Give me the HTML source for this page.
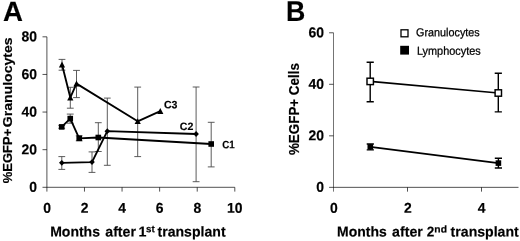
<!DOCTYPE html>
<html><head><meta charset="utf-8"><title>fig</title>
<style>
html,body{margin:0;padding:0;background:#fff;}
body{width:520px;height:241px;overflow:hidden;}
svg{display:block;will-change:transform;filter:grayscale(1);}
text{font-family:"Liberation Sans",sans-serif;fill:#000;}
.b{font-weight:bold;stroke:#000;stroke-width:0.18;}
.ax{stroke:#000;stroke-width:0.68;fill:none;}
.axr{stroke:#000;stroke-width:0.55;fill:none;}
.eb{stroke:#4a4a4a;stroke-width:0.9;fill:none;}
.ebr{stroke:#000;stroke-width:1.4;fill:none;}
.ln{stroke:#000;stroke-width:1.85;fill:none;stroke-linejoin:round;stroke-linecap:round;}
.lnr{stroke:#000;stroke-width:1.65;fill:none;}
</style></head><body>
<svg width="520" height="241" viewBox="0 0 520 241">
<rect width="520" height="241" fill="#fff"/>
<text class="b" font-size="28" transform="translate(3.01 20.90) scale(0.9861 1) rotate(0.03)">A</text>
<text class="b" font-size="28.7" transform="translate(286.10 21.00) scale(0.9311 1) rotate(0.03)">B</text>
<path class="ax" d="M46.9 36.82V191.60000000000002M42.5 187.3H234.80"/>
<text class="b" font-size="14.2" transform="translate(29.28 191.80) scale(0.9800 1) rotate(0.03)">0</text>
<path class="ax" d="M42.5 149.68H46.9"/>
<text class="b" font-size="14.2" transform="translate(21.56 154.18) scale(0.9800 1) rotate(0.03)">20</text>
<path class="ax" d="M42.5 112.06H46.9"/>
<text class="b" font-size="14.2" transform="translate(21.56 116.56) scale(0.9800 1) rotate(0.03)">40</text>
<path class="ax" d="M42.5 74.44H46.9"/>
<text class="b" font-size="14.2" transform="translate(21.56 78.94) scale(0.9800 1) rotate(0.03)">60</text>
<path class="ax" d="M42.5 36.82H46.9"/>
<text class="b" font-size="14.2" transform="translate(21.56 41.32) scale(0.9800 1) rotate(0.03)">80</text>
<text class="b" font-size="14.2" transform="translate(43.14 212.85) scale(0.9800 1) rotate(0.03)">0</text>
<path class="ax" d="M84.48 187.3V191.60000000000002"/>
<text class="b" font-size="14.2" transform="translate(80.75 212.85) scale(0.9800 1) rotate(0.03)">2</text>
<path class="ax" d="M122.06 187.3V191.60000000000002"/>
<text class="b" font-size="14.2" transform="translate(118.23 212.85) scale(0.9800 1) rotate(0.03)">4</text>
<path class="ax" d="M159.64 187.3V191.60000000000002"/>
<text class="b" font-size="14.2" transform="translate(155.86 212.85) scale(0.9800 1) rotate(0.03)">6</text>
<path class="ax" d="M197.22 187.3V191.60000000000002"/>
<text class="b" font-size="14.2" transform="translate(193.44 212.85) scale(0.9800 1) rotate(0.03)">8</text>
<path class="ax" d="M234.80 187.3V191.60000000000002"/>
<text class="b" font-size="14.2" transform="translate(227.02 212.85) scale(0.9800 1) rotate(0.03)">10</text>
<text class="b" font-size="13.5" transform="translate(12.40 183.23) rotate(-90) scale(0.9631 1)">%EGFP+</text>
<text class="b" font-size="13.5" transform="translate(12.40 127.26) rotate(-90) scale(1.0436 1)">Granulocytes</text>
<text class="b" font-size="14.3" transform="translate(50.15 236.45) scale(0.9804 1) rotate(0.03)">Months</text>
<text class="b" font-size="14.3" transform="translate(105.28 236.45) scale(0.9884 1) rotate(0.03)">after</text>
<text class="b" font-size="14.3" transform="translate(138.51 236.45) scale(1.0000 1) rotate(0.03)">1</text>
<text class="b" font-size="10" transform="translate(146.06 232.25) scale(0.9762 1) rotate(0.03)">st</text>
<text class="b" font-size="14.3" transform="translate(157.52 236.45) scale(0.9848 1) rotate(0.03)">transplant</text>
<path class="eb" d="M62.0 59.4V70.2M58.6 59.4H65.4M58.6 70.2H65.4"/>
<path class="eb" d="M70.3 87.3V108.2M66.9 87.3H73.7M66.9 108.2H73.7"/>
<path class="eb" d="M76.5 70.4V97.6M73.1 70.4H79.9M73.1 97.6H79.9"/>
<path class="eb" d="M137.7 87.1V156.6M134.3 87.1H141.1M134.3 156.6H141.1"/>
<path class="eb" d="M61.7 125.4V128.3M58.3 125.4H65.1M58.3 128.3H65.1"/>
<path class="eb" d="M70.2 114.1V123.2M66.8 114.1H73.7M66.8 123.2H73.7"/>
<path class="eb" d="M79.2 135.8V140.8M75.8 135.8H82.6M75.8 140.8H82.6"/>
<path class="eb" d="M98.3 122.7V151.5M94.9 122.7H101.7M94.9 151.5H101.7"/>
<path class="eb" d="M211.2 122.3V166.9M207.8 122.3H214.6M207.8 166.9H214.6"/>
<path class="eb" d="M61.8 156.6V169.4M58.4 156.6H65.2M58.4 169.4H65.2"/>
<path class="eb" d="M92.0 151.9V172.4M88.6 151.9H95.4M88.6 172.4H95.4"/>
<path class="eb" d="M107.3 98.1V165.3M103.9 98.1H110.7M103.9 165.3H110.7"/>
<path class="eb" d="M196.1 87.0V181.7M192.7 87.0H199.5M192.7 181.7H199.5"/>
<polyline class="ln" points="62,64.6 70.3,97.6 76.5,83.6 137.7,121.3 160.3,111.1"/>
<polyline class="ln" points="61.7,126.9 70.25,118.6 79.2,138.3 98.3,137.5 211.2,144"/>
<polyline class="ln" points="61.8,162.8 92,162.1 107.3,131.2 196.1,134"/>
<path d="M62 61.599999999999994L65.1 67.39999999999999H58.9Z" fill="#000"/>
<path d="M70.3 94.6L73.39999999999999 100.39999999999999H67.2Z" fill="#000"/>
<path d="M76.5 80.6L79.6 86.39999999999999H73.4Z" fill="#000"/>
<path d="M137.7 118.3L140.79999999999998 124.1H134.6Z" fill="#000"/>
<path d="M160.3 108.1L163.4 113.89999999999999H157.20000000000002Z" fill="#000"/>
<rect x="58.900000000000006" y="124.10000000000001" width="5.6" height="5.6" fill="#000"/>
<rect x="67.45" y="115.8" width="5.6" height="5.6" fill="#000"/>
<rect x="76.4" y="135.5" width="5.6" height="5.6" fill="#000"/>
<rect x="95.5" y="134.7" width="5.6" height="5.6" fill="#000"/>
<rect x="208.39999999999998" y="141.2" width="5.6" height="5.6" fill="#000"/>
<path d="M61.8 159.9L64.6 162.8L61.8 165.70000000000002L59.0 162.8Z" fill="#000"/>
<path d="M92 159.2L94.8 162.1L92 165.0L89.2 162.1Z" fill="#000"/>
<path d="M107.3 128.29999999999998L110.1 131.2L107.3 134.1L104.5 131.2Z" fill="#000"/>
<path d="M196.1 131.1L198.9 134L196.1 136.9L193.29999999999998 134Z" fill="#000"/>
<text class="b" font-size="10.8" transform="translate(163.98 108.20) scale(0.9779 1) rotate(0.03)">C3</text>
<text class="b" font-size="10.8" transform="translate(179.78 129.90) scale(0.9820 1) rotate(0.03)">C2</text>
<text class="b" font-size="10.8" transform="translate(222.31 148.30) scale(0.9030 1) rotate(0.03)">C1</text>
<path class="axr" d="M333.5 32.79V191.65"/><path class="ax" d="M329.1 187.35H518.50"/>
<text class="b" font-size="14.2" transform="translate(316.13 191.85) scale(0.9800 1) rotate(0.03)">0</text>
<path class="ax" d="M329.1 135.83H333.5"/>
<text class="b" font-size="14.2" transform="translate(308.41 140.33) scale(0.9800 1) rotate(0.03)">20</text>
<path class="ax" d="M329.1 84.31H333.5"/>
<text class="b" font-size="14.2" transform="translate(308.41 88.81) scale(0.9800 1) rotate(0.03)">40</text>
<path class="ax" d="M329.1 32.79H333.5"/>
<text class="b" font-size="14.2" transform="translate(308.41 37.29) scale(0.9800 1) rotate(0.03)">60</text>
<text class="b" font-size="14.2" transform="translate(329.94 212.85) scale(0.9800 1) rotate(0.03)">0</text>
<path class="ax" d="M407.50 187.35V191.65"/>
<text class="b" font-size="14.2" transform="translate(403.97 212.85) scale(0.9800 1) rotate(0.03)">2</text>
<path class="ax" d="M481.50 187.35V191.65"/>
<text class="b" font-size="14.2" transform="translate(477.87 212.85) scale(0.9800 1) rotate(0.03)">4</text>
<text class="b" font-size="14" transform="translate(298.70 155.04) rotate(-90) scale(0.9573 1)">%EGFP+ Cells</text>
<text class="b" font-size="14.3" transform="translate(337.06 236.45) scale(0.9764 1) rotate(0.03)">Months</text>
<text class="b" font-size="14.3" transform="translate(392.07 236.45) scale(0.9917 1) rotate(0.03)">after</text>
<text class="b" font-size="14.3" transform="translate(426.83 236.45) scale(0.9470 1) rotate(0.03)">2</text>
<text class="b" font-size="10" transform="translate(434.33 232.45) scale(1.0367 1) rotate(0.03)">nd</text>
<text class="b" font-size="14.3" transform="translate(450.62 236.45) scale(0.9862 1) rotate(0.03)">transplant</text>
<path class="ebr" d="M370.2 62.2V101.7M366.6 62.2H373.8M366.6 101.7H373.8"/>
<path class="ebr" d="M498.3 73.2V111.9M494.7 73.2H501.9M494.7 111.9H501.9"/>
<path class="ebr" d="M370.3 144.0V149.9M366.7 144.0H373.9M366.7 149.9H373.9"/>
<path class="ebr" d="M498.4 158.2V168.0M494.8 158.2H502.0M494.8 168.0H502.0"/>
<polyline class="lnr" points="370.2,81.4 498.3,93"/>
<polyline class="lnr" points="370.3,146.9 498.4,163.1"/>
<rect x="367.0" y="78.2" width="6.4" height="6.4" fill="#fff" stroke="#000" stroke-width="1.45"/>
<rect x="495.1" y="89.8" width="6.4" height="6.4" fill="#fff" stroke="#000" stroke-width="1.45"/>
<rect x="367.5" y="144.1" width="5.6" height="5.6" fill="#000"/>
<rect x="495.59999999999997" y="160.29999999999998" width="5.6" height="5.6" fill="#000"/>
<rect x="401" y="29.8" width="7" height="7" fill="#fff" stroke="#000" stroke-width="1.3"/>
<rect x="400.2" y="45.8" width="8.8" height="8.8" fill="#000"/>
<text font-size="11.6" transform="translate(415.96 36.30) scale(0.9337 1) rotate(0.03)" stroke="#000" stroke-width="0.25">Granulocytes</text>
<text font-size="11.6" transform="translate(416.90 54.80) scale(0.9421 1) rotate(0.03)" stroke="#000" stroke-width="0.25">Lymphocytes</text>
</svg></body></html>
